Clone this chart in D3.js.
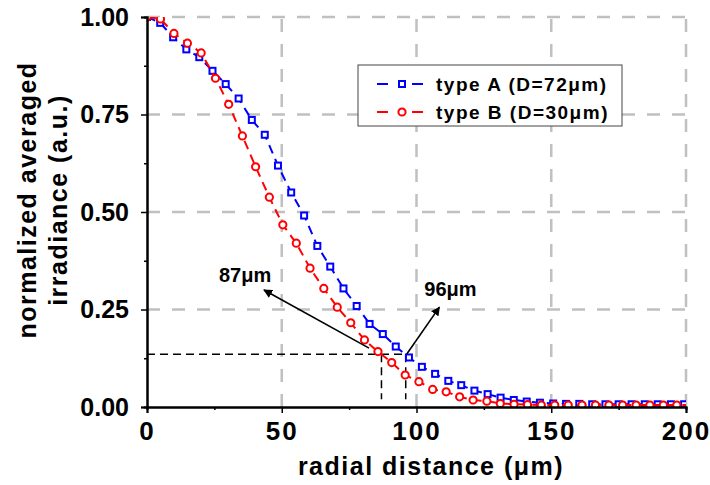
<!DOCTYPE html>
<html>
<head>
<meta charset="utf-8">
<script src="https://cdnjs.cloudflare.com/ajax/libs/d3/7.8.5/d3.min.js"></script>
<style>
body{margin:0;background:#fff;}
svg text{font-family:"Liberation Sans",Arial,sans-serif;font-weight:bold;fill:#000;}
</style>
</head>
<body>
<div id="container"></div>
<script>
///data
const typeAx = [0, 4.9, 9.7, 14.6, 19.4, 24.3, 29.2, 34.0, 38.9, 43.7, 48.6, 53.5, 58.3, 63.2, 68.0, 72.9,
  77.8, 82.6, 87.5, 92.3, 97.2, 102.0, 106.9, 111.8, 116.6, 121.5, 126.4, 131.2, 136.1, 140.9, 145.8,
  150.7, 155.5, 160.4, 165.2, 170.1, 175.0, 179.8, 184.7, 189.5, 194.4, 199.3];
const typeAy = [1.000, 0.985, 0.948, 0.917, 0.897, 0.862, 0.828, 0.791, 0.736, 0.698, 0.619, 0.550, 0.491,
  0.413, 0.360, 0.304, 0.259, 0.213, 0.187, 0.155, 0.127, 0.103, 0.085, 0.067, 0.056, 0.042, 0.033,
  0.024, 0.018, 0.014, 0.011, 0.009, 0.008, 0.008, 0.007, 0.007, 0.007, 0.007, 0.007, 0.007, 0.007, 0.007];
const typeBx = [0, 5.0, 10.0, 15.0, 20.1, 25.4, 30.3, 35.4, 40.3, 45.4, 50.4, 55.4, 60.5, 65.6, 70.6, 75.6,
  80.7, 85.7, 90.8, 95.8, 100.9, 106.0, 111.0, 116.0, 121.0, 126.1, 131.1, 136.2, 141.2, 146.3, 151.3,
  156.3, 161.4, 166.4, 171.4, 176.5, 181.5, 186.6, 191.6, 196.6, 201.6];
const typeBy = [1.000, 0.995, 0.958, 0.933, 0.908, 0.843, 0.776, 0.695, 0.616, 0.538, 0.467, 0.420, 0.356,
  0.304, 0.256, 0.216, 0.172, 0.142, 0.114, 0.082, 0.065, 0.045, 0.039, 0.026, 0.018, 0.015, 0.009,
  0.007, 0.006, 0.005, 0.005, 0.005, 0.005, 0.005, 0.005, 0.005, 0.005, 0.005, 0.005, 0.005, 0.005];
const seriesNames = ["type A (D=72\u03bcm)", "type B (D=30\u03bcm)"];
const xTicks = [0, 50, 100, 150, 200];
const xMinor = [25, 75, 125, 175];
const yTicks = [0, 0.25, 0.5, 0.75, 1];
const yMinor = [0.125, 0.375, 0.625, 0.875];
const xTitle = "radial distance (\u03bcm)";
const yTitle = ["normalized averaged", "irradiance (a.u.)"];
///1/e^2 cut and the two widths
const cutLevel = 0.135;
const cutX = [87, 96];
const cutLabels = ["87\u03bcm", "96\u03bcm"];

///vars
let w = 710,
h = 485;
const m = { left: 147, right: 24, top: 17, bottom: 78 };
const blue = "#0000ff",
red = "#ff0000";

///svg
let svg = d3.
select("#container").
append("svg").
attr("width", w).
attr("height", h).
style("display", "block");
svg.append("rect").attr("width", w).attr("height", h).attr("fill", "#fff");

const x = d3.scaleLinear().domain([0, 200]).range([m.left, w - m.right]);
const y = d3.scaleLinear().domain([0, 1]).range([h - m.bottom, m.top]);

let defs = svg.append("defs");
defs.append("clipPath").
attr("id", "clip").
append("rect").
attr("x", x(0)).
attr("y", y(1)).
attr("width", x(200) - x(0)).
attr("height", y(0) - y(1));
defs.append("marker").
attr("id", "head").
attr("viewBox", "0 0 10 10").
attr("refX", 9).
attr("refY", 5).
attr("markerWidth", 9).
attr("markerHeight", 9).
attr("markerUnits", "userSpaceOnUse").
attr("orient", "auto").
append("path").
attr("d", "M0,0L10,5L0,10z").
attr("fill", "#000");

///grid
let grid = svg.append("g").
attr("stroke", "#c0c0c0").
attr("stroke-width", 2.5).
attr("stroke-dasharray", "13,12");
grid.selectAll(".gx").
data(xTicks.filter(d => d > 0)).
join("line").
attr("x1", d => x(d)).
attr("x2", d => x(d)).
attr("y1", y(0)).
attr("y2", y(1));
grid.selectAll(".gy").
data(yTicks.filter(d => d > 0)).
join("line").
attr("x1", x(0)).
attr("x2", x(200)).
attr("y1", d => y(d)).
attr("y2", d => y(d));

///cut lines
let cut = svg.append("g").attr("stroke", "#000").attr("stroke-width", 1.5).attr("stroke-dasharray", "8,5");
cut.append("line").
attr("x1", x(0)).
attr("x2", x(cutX[1])).
attr("y1", y(cutLevel)).
attr("y2", y(cutLevel));
cut.selectAll(".v").
data(cutX).
join("line").
attr("x1", d => x(d)).
attr("x2", d => x(d)).
attr("y1", y(cutLevel)).
attr("y2", y(0.02));

///series
const line = d3.line().x(d => x(d[0])).y(d => y(d[1]));
const A = typeAx.map((d, i) => [d, typeAy[i]]);
const B = typeBx.map((d, i) => [d, typeBy[i]]);
let plot = svg.append("g").attr("clip-path", "url(#clip)");

plot.append("path").
datum(A).
attr("d", line).
attr("fill", "none").
attr("stroke", blue).
attr("stroke-width", 2).
attr("stroke-dasharray", "9,6");
plot.append("g").
selectAll("rect").
data(A).
join("rect").
attr("x", d => x(d[0]) - 3).
attr("y", d => y(d[1]) - 3).
attr("width", 6).
attr("height", 6).
attr("fill", "#fff").
attr("stroke", blue).
attr("stroke-width", 2);
plot.append("path").
datum(B).
attr("d", line).
attr("fill", "none").
attr("stroke", red).
attr("stroke-width", 2).
attr("stroke-dasharray", "9,6");
plot.append("g").
selectAll("circle").
data(B).
join("circle").
attr("cx", d => x(d[0])).
attr("cy", d => y(d[1])).
attr("r", 3.6).
attr("fill", "#fff").
attr("stroke", red).
attr("stroke-width", 2);

///axes
let xAxis = d3.axisBottom(x).tickValues(xTicks).tickSize(6).tickPadding(9).tickFormat(d3.format("d"));
let xAxisMinor = d3.axisBottom(x).tickValues(xMinor).tickSize(3).tickFormat("");
let yAxis = d3.axisLeft(y).tickValues(yTicks).tickSize(6).tickPadding(12).tickFormat(d3.format(".2f"));
let yAxisMinor = d3.axisLeft(y).tickValues(yMinor).tickSize(3).tickFormat("");

let gx = svg.append("g").attr("transform", "translate(0," + y(0) + ")");
gx.call(xAxis);
gx.append("g").call(xAxisMinor);
let gy = svg.append("g").attr("transform", "translate(" + x(0) + ",0)");
gy.call(yAxis);
gy.append("g").call(yAxisMinor);
svg.selectAll(".domain").attr("stroke-width", 2);
svg.selectAll(".tick line").attr("stroke-width", 1.5);
gx.selectAll(".tick text").
style("font-size", "26px").
style("letter-spacing", "2px").
style("font-family", "'Liberation Sans',Arial,sans-serif").
style("font-weight", "bold");
gy.selectAll(".tick text").
style("font-size", "25px").
style("font-family", "'Liberation Sans',Arial,sans-serif").
style("font-weight", "bold");

///titles
svg.append("text").
attr("x", 431).
attr("y", 475).
attr("text-anchor", "middle").
style("font-size", "25px").
style("letter-spacing", "1.5px").
text(xTitle);
svg.selectAll(".ytitle").
data(yTitle).
join("text").
attr("transform", (d, i) => "translate(" + (36 + i * 31) + ",200) rotate(-90)").
attr("text-anchor", "middle").
style("font-size", "25px").
style("letter-spacing", "1.5px").
text(d => d);

///annotations
const arrows = [
  { from: [82.4, 0.151], to: [43.4, 0.3], label: [36.4, 0.32] },
  { from: [96.4, 0.136], to: [108.5, 0.256], label: [112.6, 0.285] }];

svg.selectAll(".arrow").
data(arrows).
join("line").
attr("x1", d => x(d.from[0])).
attr("y1", d => y(d.from[1])).
attr("x2", d => x(d.to[0])).
attr("y2", d => y(d.to[1])).
attr("stroke", "#000").
attr("stroke-width", 1.6).
attr("marker-end", "url(#head)");
svg.selectAll(".alabel").
data(arrows).
join("text").
attr("x", d => x(d.label[0])).
attr("y", d => y(d.label[1])).
attr("text-anchor", "middle").
style("font-size", "20px").
text((d, i) => cutLabels[i]);

///legend
let legend = svg.append("g").attr("transform", "translate(358,65)");
legend.append("rect").
attr("width", 264).
attr("height", 61).
attr("fill", "#fff").
attr("stroke", "#444").
attr("stroke-width", 1);
let items = legend.selectAll(".item").
data(seriesNames).
join("g").
attr("transform", (d, i) => "translate(0," + (19 + i * 28) + ")");
items.append("line").
attr("x1", 19).
attr("x2", 30).
attr("stroke", (d, i) => i ? red : blue).
attr("stroke-width", 2);
items.append("line").
attr("x1", 54).
attr("x2", 65).
attr("stroke", (d, i) => i ? red : blue).
attr("stroke-width", 2);
items.each(function(d, i) {
  let g = d3.select(this);
  if (i === 0) {
    g.append("rect").attr("x", 41).attr("y", -3).attr("width", 6).attr("height", 6).
    attr("fill", "#fff").attr("stroke", blue).attr("stroke-width", 2);
  } else {
    g.append("circle").attr("cx", 44).attr("r", 3.6).
    attr("fill", "#fff").attr("stroke", red).attr("stroke-width", 2);
  }
});
items.append("text").
attr("x", 78).
attr("y", 7).
style("font-size", "19px").
style("letter-spacing", "1.5px").
text(d => d);
</script>
</body>
</html>
